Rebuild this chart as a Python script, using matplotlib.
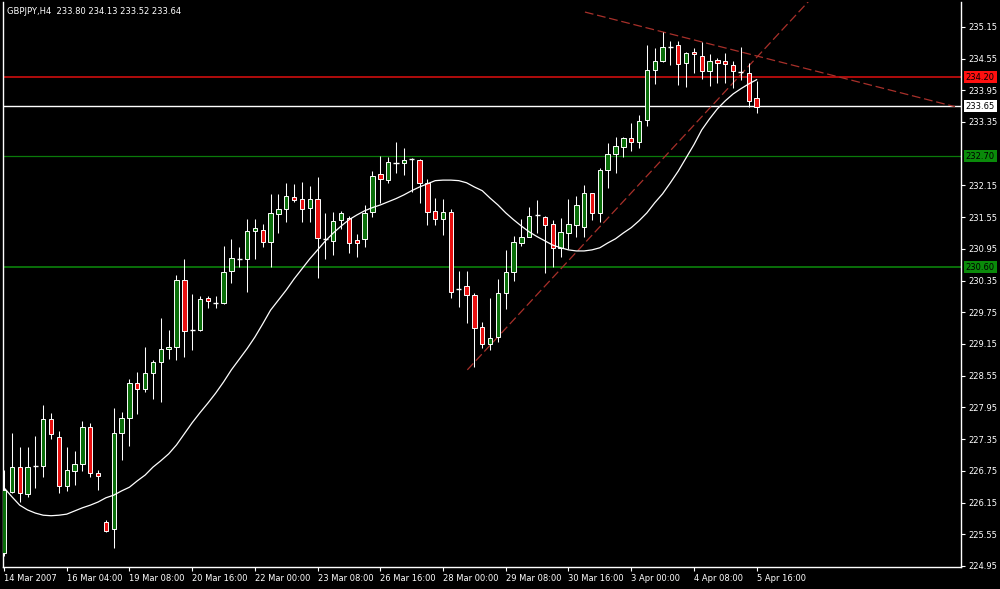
import matplotlib
matplotlib.use('Agg')
import matplotlib.pyplot as plt

# GBPJPY H4 candles (bar 0 = 14 Mar 2007)
opens = [225.20, 226.34, 226.82, 226.31, 226.84, 226.84, 227.73, 227.39, 226.46, 226.75,
         226.88, 227.58, 226.71, 225.78, 225.65, 227.47, 227.75, 228.41, 228.30, 228.60,
         228.81, 229.05, 229.09, 230.36, 229.42, 229.42, 230.02, 229.93, 229.93, 230.53,
         230.76, 230.76, 231.29, 231.31, 231.08, 231.61, 231.71, 231.93, 231.90, 231.73,
         231.90, 231.14, 231.10, 231.50, 231.54, 231.12, 231.14, 231.65, 232.37, 232.25,
         232.58, 232.58, 232.65, 232.63, 232.20, 231.67, 231.52, 231.65, 230.19, 230.25,
         230.08, 229.47, 229.15, 229.28, 230.12, 230.51, 231.06, 231.18, 231.59, 231.55,
         231.42, 230.97, 231.25, 231.40, 231.37, 232.01, 231.63, 232.44, 232.75, 232.88,
         233.05, 232.97, 233.39, 234.34, 234.51, 234.77, 234.81, 234.47, 234.68, 234.60,
         234.32, 234.53, 234.51, 234.43, 234.30, 234.28, 233.80]
highs = [226.77, 227.47, 227.20, 227.20, 227.41, 228.00, 227.84, 227.50, 227.20, 227.13,
         227.69, 227.66, 226.77, 225.82, 227.94, 227.86, 228.49, 228.62, 229.09, 228.85,
         229.64, 229.42, 230.46, 230.76, 230.10, 230.06, 230.06, 230.06, 231.01, 231.14,
         230.99, 231.52, 231.52, 231.42, 231.99, 231.99, 232.20, 232.18, 232.22, 232.14,
         232.31, 231.63, 231.65, 231.67, 231.57, 231.23, 231.78, 232.43, 232.71, 232.69,
         232.97, 232.86, 232.67, 232.65, 232.27, 231.91, 231.90, 231.71, 230.53, 230.53,
         230.12, 229.57, 230.02, 230.38, 230.93, 231.19, 231.52, 231.74, 231.88, 231.57,
         231.50, 231.54, 231.90, 231.95, 232.16, 232.01, 232.48, 232.95, 233.07, 233.07,
         233.33, 233.49, 234.81, 234.75, 235.05, 234.89, 234.89, 234.68, 234.75, 234.87,
         234.64, 234.56, 234.66, 234.51, 234.77, 234.47, 234.13]
lows = [225.14, 226.33, 226.16, 226.25, 226.43, 226.63, 227.35, 226.33, 226.37, 226.48,
        226.75, 226.63, 226.39, 225.59, 225.29, 226.96, 227.22, 227.83, 228.24, 228.11,
        228.05, 228.87, 228.85, 228.90, 229.04, 229.40, 229.83, 229.83, 229.91, 230.31,
        230.61, 230.14, 230.76, 230.99, 230.61, 231.25, 231.46, 231.84, 231.46, 231.46,
        230.40, 230.76, 230.84, 231.33, 230.87, 230.80, 230.99, 231.55, 231.82, 232.20,
        232.39, 232.35, 232.03, 231.82, 231.40, 231.40, 231.21, 230.02, 229.85, 229.55,
        228.72, 229.07, 229.04, 229.19, 229.81, 230.34, 231.01, 231.18, 231.25, 230.49,
        230.61, 230.80, 230.95, 231.18, 231.18, 231.50, 231.46, 232.10, 232.39, 232.69,
        232.80, 232.86, 233.28, 234.07, 234.49, 234.43, 234.05, 234.01, 234.28, 234.17,
        234.03, 234.09, 234.09, 234.00, 234.15, 233.64, 233.52]
closes = [226.39, 226.82, 226.33, 226.82, 226.84, 227.73, 227.45, 226.46, 226.77, 226.88,
          227.58, 226.71, 226.65, 225.61, 227.47, 227.75, 228.41, 228.30, 228.60, 228.81,
          229.06, 229.10, 230.36, 229.40, 229.42, 230.00, 229.96, 229.93, 230.51, 230.78,
          230.76, 231.29, 231.35, 231.08, 231.63, 231.71, 231.95, 231.88, 231.71, 231.90,
          231.16, 231.14, 231.48, 231.63, 231.06, 231.06, 231.63, 232.33, 232.27, 232.60,
          232.58, 232.63, 232.65, 232.20, 231.65, 231.52, 231.65, 230.14, 230.19, 230.08,
          229.45, 229.15, 229.26, 230.12, 230.51, 231.08, 231.18, 231.57, 231.59, 231.40,
          230.97, 231.27, 231.42, 231.78, 232.01, 231.63, 232.44, 232.75, 232.90, 233.05,
          232.97, 233.37, 234.34, 234.51, 234.77, 234.77, 234.45, 234.66, 234.64, 234.32,
          234.51, 234.47, 234.45, 234.32, 234.30, 233.75, 233.64]

# white moving average curve
ma = [226.43, 226.26, 226.10, 226.01, 225.95, 225.91, 225.90, 225.91, 225.93, 225.99,
      226.05, 226.10, 226.16, 226.24, 226.29, 226.37, 226.44, 226.56, 226.67, 226.82,
      226.94, 227.07, 227.24, 227.45, 227.66, 227.85, 228.03, 228.22, 228.43, 228.66,
      228.86, 229.06, 229.28, 229.53, 229.79, 229.98, 230.17, 230.38, 230.57, 230.76,
      230.93, 231.10, 231.25, 231.38, 231.50, 231.59, 231.67, 231.73, 231.78, 231.84,
      231.90, 231.97, 232.05, 232.12, 232.18, 232.24, 232.25, 232.25, 232.24, 232.20,
      232.12, 232.05, 231.91, 231.78, 231.63, 231.50, 231.38, 231.27, 231.18, 231.10,
      231.02, 230.97, 230.93, 230.91, 230.91, 230.93, 230.97, 231.06, 231.14, 231.25,
      231.35, 231.48, 231.63, 231.82, 231.99, 232.20, 232.42, 232.67, 232.92, 233.20,
      233.41, 233.60, 233.75, 233.88, 233.98, 234.07, 234.15]

time_ticks = [0, 8, 16, 24, 32, 40, 48, 56, 64, 72, 80, 88, 96]
time_labels = ['14 Mar 2007', '16 Mar 04:00', '19 Mar 08:00', '20 Mar 16:00', '22 Mar 00:00',
               '23 Mar 08:00', '26 Mar 16:00', '28 Mar 00:00', '29 Mar 08:00', '30 Mar 16:00',
               '3 Apr 00:00', '4 Apr 08:00', '5 Apr 16:00']
price_ticks = [224.95, 225.55, 226.15, 226.75, 227.35, 227.95, 228.55, 229.15, 229.75,
               230.35, 230.95, 231.55, 232.15, 233.35, 233.95, 234.55, 235.15]

level_prices = [234.20, 233.65, 232.70, 230.60]
level_colors = ['#b00c0c', '#ffffff', '#0a7a0a', '#0a6e0a']
level_boxes = ['#ff1010', '#ffffff', '#0a8a0a', '#0a8a0a']

trend_down_x = [74.1, 121.3]
trend_down_y = [235.43, 233.64]
trend_up_x = [59.1, 102.8]
trend_up_y = [228.66, 235.66]

fig = plt.figure(figsize=(10, 5.89), dpi=100, facecolor='black')
ax = fig.add_axes([0.003, 22 / 589, 0.958, 565 / 589])
ax.set_facecolor('black')
ax.set_xlim(-0.13, 122.07)
ax.set_ylim(224.93, 235.62)

# horizontal levels
lws = [1.4, 1.0, 0.9, 1.4]
for p, c, lw in zip(level_prices, level_colors, lws):
    ax.axhline(p, color=c, lw=lw, zorder=1)

# trend lines
ax.plot(trend_down_x, trend_down_y, color='#a8302a', lw=0.9, dashes=(7, 3), zorder=1)
ax.plot(trend_up_x, trend_up_y, color='#a8302a', lw=0.9, dashes=(7, 3), zorder=1)

# candles
for i in range(len(opens)):
    o, h, l, c = opens[i], highs[i], lows[i], closes[i]
    ax.vlines(i, l, h, color='white', lw=0.75, zorder=2)
    if abs(c - o) < 0.01:
        ax.hlines(o, i - 0.32, i + 0.32, color='white', lw=1.0, zorder=3)
    else:
        fc = '#0a6e0a' if c > o else '#e81010'
        ax.bar(i, abs(c - o), bottom=min(o, c), width=0.56, color=fc,
               edgecolor='white', linewidth=0.7, zorder=3)

ax.plot(range(len(ma)), ma, color='white', lw=0.9, zorder=4)

for s in ax.spines.values():
    s.set_color('white')
    s.set_linewidth(1.0)
ax.spines['top'].set_visible(False)

ax.yaxis.tick_right()
ax.set_yticks(price_ticks)
ax.set_yticklabels(['%.2f' % p for p in price_ticks])
ax.tick_params(axis='y', colors='white', length=3, width=0.8, pad=2, labelsize=6.0)
ax.set_xticks(time_ticks)
ax.set_xticklabels(time_labels, ha='left')
ax.tick_params(axis='x', colors='white', length=3, width=0.8, pad=2, labelsize=6.0)

# price labels on the scale
for p, bc in zip(level_prices, level_boxes):
    ax.annotate('%.2f' % p, xy=(1.0, p), xycoords=('axes fraction', 'data'),
                xytext=(3.5, 0), textcoords='offset points', ha='left', va='center',
                fontsize=6.0, color='black', zorder=6, annotation_clip=False,
                bbox=dict(boxstyle='square,pad=0.2', fc=bc, ec='none'))

fig.text(0.007, 1 - 11 / 589, 'GBPJPY,H4  233.80 234.13 233.52 233.64', color='white',
         fontsize=6.0, va='center', ha='left')

fig.savefig('out.png', dpi=100, facecolor='black')
